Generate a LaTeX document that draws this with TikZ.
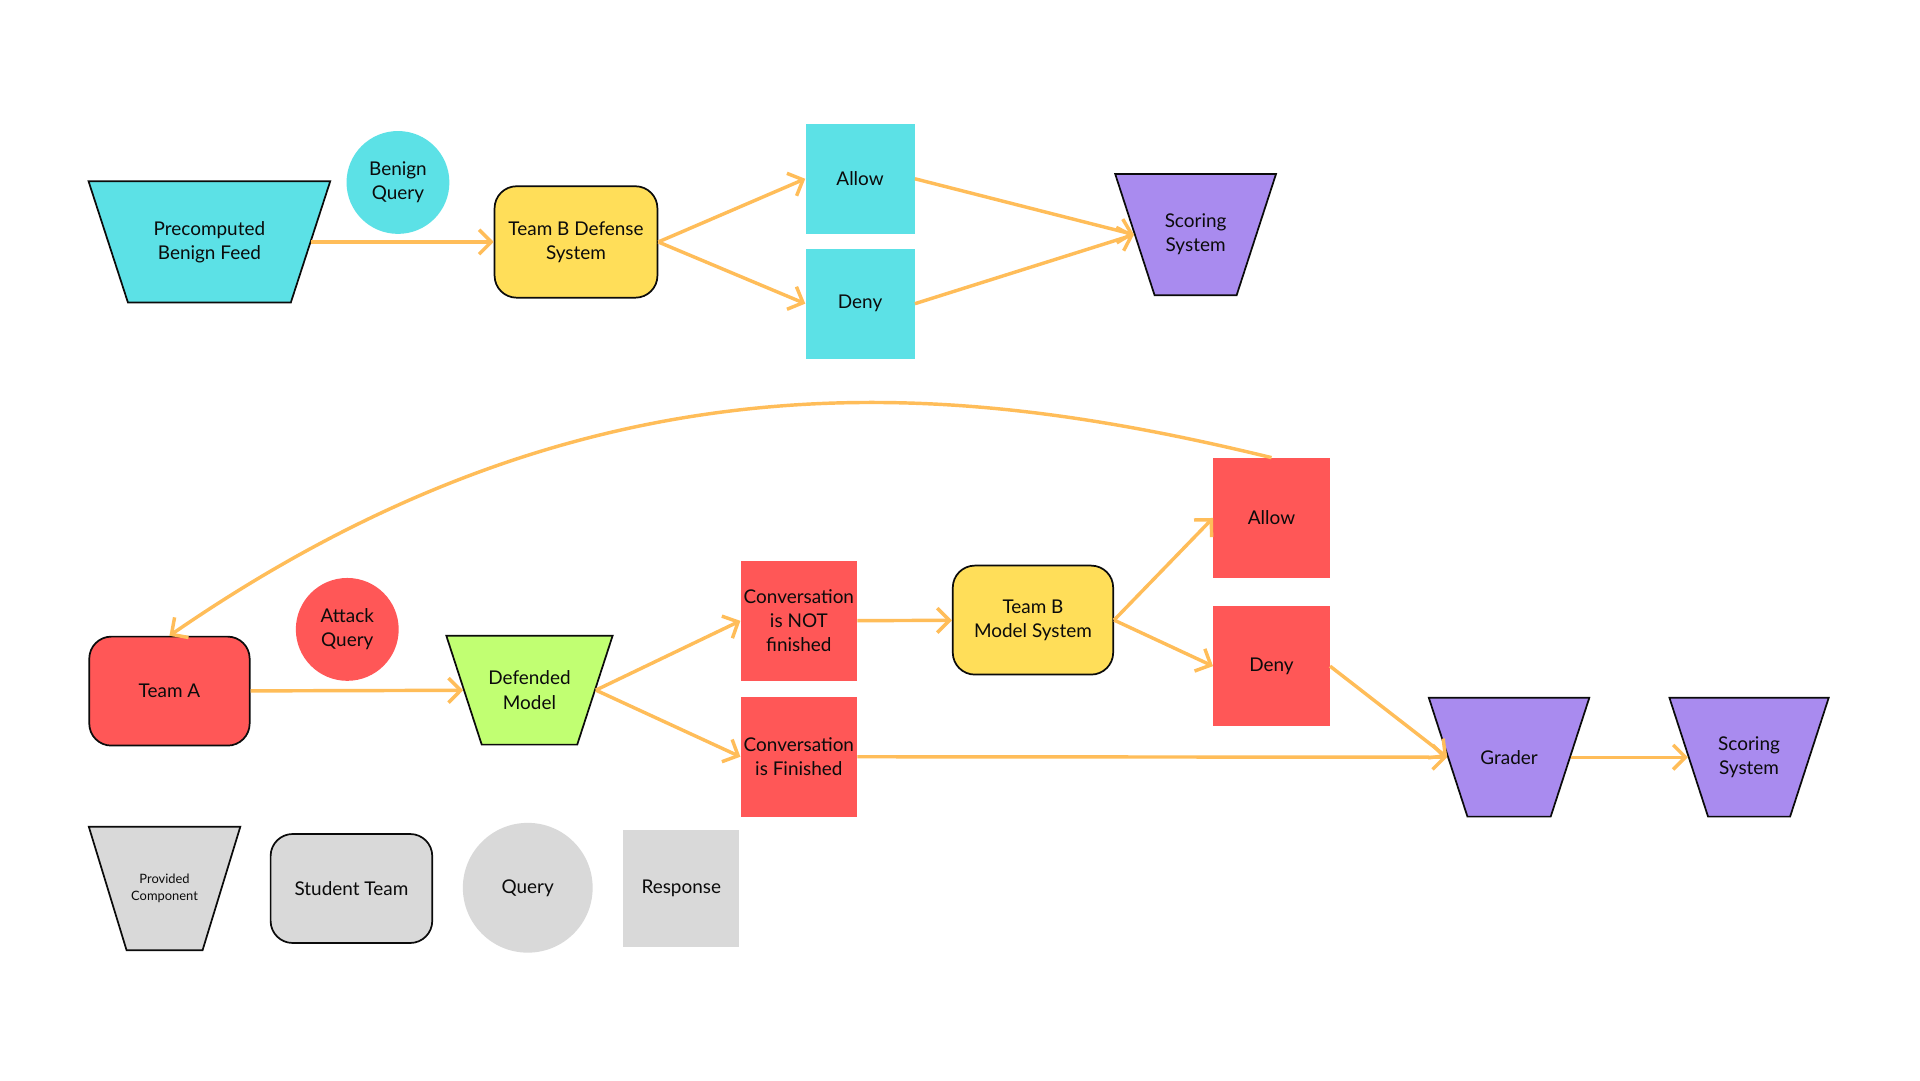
\documentclass[tikz,border=0pt]{standalone}
\usepackage{fontspec}
\setmainfont{Lato}
\usetikzlibrary{shapes.geometric,arrows.meta,positioning}
\definecolor{cian}{HTML}{5CE1E6}
\definecolor{amarillo}{HTML}{FFDE59}
\definecolor{morado}{HTML}{A98BEF}
\definecolor{rojo}{HTML}{FF5757}
\definecolor{verde}{HTML}{C1FF72}
\definecolor{gris}{HTML}{D9D9D9}
\definecolor{naranja}{HTML}{FFBD59}
\definecolor{negro}{HTML}{0B0B0B}
\tikzset{
  texto/.style={align=center,text=negro,inner sep=0pt,font=\fontsize{11}{14}\selectfont},
  caja/.style={texto,minimum width=23.75mm,minimum height=24.5mm},
  cajaroja/.style={caja,fill=rojo},
  cajacian/.style={caja,fill=cian,minimum width=22.25mm,minimum height=22.5mm},
  equipo/.style={caja,draw=negro,line width=1pt,rounded corners=4.5mm,minimum width=32.75mm,minimum height=22.25mm},
  trapecio/.style={trapezium,trapezium angle=72,shape border rotate=180,draw=negro,line width=1pt,inner xsep=8.5mm,inner ysep=12.125mm},
  consulta/.style={caja,circle,minimum size=21mm},
  flecha/.style={-{Straight Barb[length=2.5mm,width=5mm]},line width=2pt,naranja},
}
\begin{document}
\begin{tikzpicture}
  \fill[white] (0,0) rectangle (39.2,-22.05);
  \useasboundingbox (0,0) rectangle (39.2,-22.05);
  % defensa
  \node[trapecio,fill=cian,inner xsep=16.625mm,inner ysep=12.375mm,label={[texto]center:{Precomputed\\Benign Feed}}] (feed) at (4.275,-4.94) {};
  \node[consulta,fill=cian] (bq) at (8.125,-3.725) {Benign\\Query};
  \node[equipo,fill=amarillo,minimum width=33.25mm,minimum height=22.75mm] (defense) at (11.76,-4.94) {Team B Defense\\System};
  \node[cajacian] (allow1) at (17.56,-3.65) {Allow};
  \node[cajacian] (deny1) at (17.56,-6.2) {Deny};
  \node[trapecio,fill=morado,inner xsep=8.375mm,inner ysep=12.375mm,label={[texto]center:{Scoring\\System}}] (score1) at (24.41,-4.79) {};
  \draw[flecha] (feed) -- (defense);
  \draw[flecha] (defense.east) -- (allow1.west);
  \draw[flecha] (defense.east) -- (deny1.west);
  \draw[flecha] (allow1.east) -- (score1.west);
  \draw[flecha] (deny1.east) -- (score1.west);
  % ataque
  \node[equipo,fill=rojo] (teamA) at (3.46,-14.11) {Team A};
  \node[consulta,fill=rojo] (aq) at (7.09,-12.85) {Attack\\Query};
  \node[trapecio,fill=verde,inner xsep=9.75mm,inner ysep=11.125mm,label={[texto]center:{Defended\\Model}}] (defended) at (10.81,-14.09) {};
  \node[cajaroja] (convnot) at (16.31,-12.675) {Conversation\\is NOT\\finished};
  \node[cajaroja] (convfin) at (16.31,-15.45) {Conversation\\is Finished};
  \node[equipo,fill=amarillo] (modelsys) at (21.09,-12.66) {Team B\\Model System};
  \node[cajaroja] (allow2) at (25.96,-10.575) {Allow};
  \node[cajaroja] (deny2) at (25.96,-13.6) {Deny};
  \node[trapecio,fill=morado,label={[texto]center:Grader}] (grader) at (30.81,-15.46) {};
  \node[trapecio,fill=morado,inner xsep=8.375mm,label={[texto]center:{Scoring\\System}}] (score2) at (35.71,-15.46) {};
  \draw[flecha] (teamA) -- (defended);
  \draw[flecha] (defended.east) -- (convnot.west);
  \draw[flecha] (defended.east) -- (convfin.west);
  \draw[flecha] (convnot) -- (modelsys);
  \draw[flecha] (modelsys.east) -- (allow2.west);
  \draw[flecha] (modelsys.east) -- (deny2.west);
  \draw[flecha] (deny2.east) -- (grader.west);
  \draw[flecha] (convfin.east) -- (grader.west);
  \draw[flecha] (grader) -- (score2);
  \draw[flecha] (allow2.north) .. controls (19.6,-7.8) and (12.2,-6.95) .. (teamA.north);
  % leyenda
  \node[trapecio,fill=gris,trapezium angle=73,inner xsep=7.75mm,inner ysep=12.625mm,label={[texto,font=\fontsize{7.5}{9.5}\selectfont]center:{Provided\\Component}}] (provided) at (3.36,-18.14) {};
  \node[equipo,fill=gris,minimum width=33mm] (student) at (7.175,-18.14) {Student Team};
  \node[consulta,fill=gris,minimum size=26.5mm] (query) at (10.775,-18.125) {Query};
  \node[caja,fill=gris,minimum size=23.75mm] (response) at (13.91,-18.14) {Response};
\end{tikzpicture}
\end{document}
